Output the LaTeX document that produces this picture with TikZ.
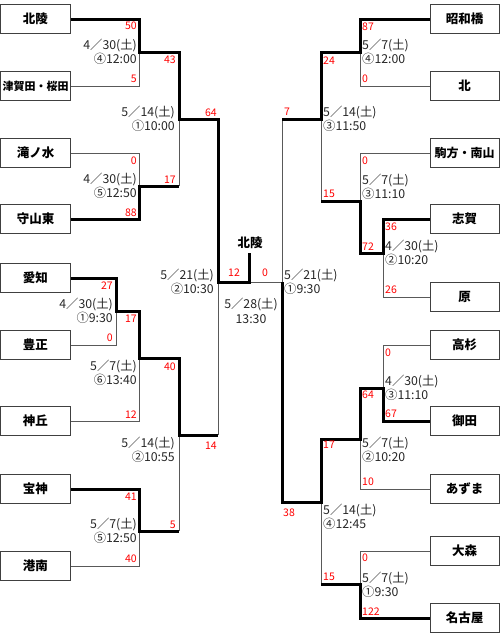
\documentclass[tikz,border=0pt]{standalone}
\usepackage{fontspec}
\setmainfont{Noto Sans CJK JP}
\usetikzlibrary{backgrounds}
\begin{document}
\begin{tikzpicture}[x=1pt,y=-1pt,
  team/.style={draw=black!75, line width=1pt, fill=white, minimum width=70pt, minimum height=29pt, inner sep=0pt, font=\fontsize{12.5}{14}\selectfont\bfseries},
  rteam/.style={team, minimum width=69pt},
  lose/.style={draw=black!65, line width=1pt},
  win/.style={draw=black, line width=3pt, line join=miter},
  date/.style={font=\fontsize{12.3}{14.5}\selectfont, text=black!85, inner sep=0pt},
  dl/.style={date, anchor=east, align=right},
  dr/.style={date, anchor=west, align=left},
  sc/.style={font=\fontsize{10.5}{12}\selectfont, text=red, inner sep=0pt},
  scl/.style={sc, anchor=east},
  scr/.style={sc, anchor=west}]
\useasboundingbox (0,0) rectangle (500,637);
% left teams
\node[team] (L1) at (35.5,19) {北陵};
\node[team] (L2) at (35.5,86) {\fontsize{11}{13}\selectfont 津賀田・桜田};
\node[team] (L3) at (35.5,153) {滝ノ水};
\node[team] (L4) at (35.5,219) {守山東};
\node[team] (L5) at (35.5,278) {愛知};
\node[team] (L6) at (35.5,345) {豊正};
\node[team] (L7) at (35.5,421) {神丘};
\node[team] (L8) at (35.5,489) {宝神};
\node[team] (L9) at (35.5,566) {港南};
% right teams
\node[rteam] (R1) at (464.5,19) {昭和橋};
\node[rteam] (R2) at (464.5,86) {北};
\node[rteam] (R3) at (464.5,153) {\fontsize{12}{14}\selectfont 駒方・南山};
\node[rteam] (R4) at (464.5,219) {志賀};
\node[rteam] (R5) at (464.5,297) {原};
\node[rteam] (R6) at (464.5,345) {高杉};
\node[rteam] (R7) at (464.5,421) {御田};
\node[rteam] (R8) at (464.5,489) {あずま};
\node[rteam] (R9) at (464.5,551) {大森};
\node[rteam] (R10) at (464.5,618) {名古屋};
\node[font=\fontsize{12.5}{14}\selectfont\bfseries, inner sep=0pt] (champ) at (250,243) {北陵};
% junctions
\coordinate (a1) at (139,52);  \coordinate (a2) at (179,52);
\coordinate (b1) at (139,186); \coordinate (b2) at (179,186);
\coordinate (c1) at (179,119); \coordinate (c2) at (218,119);
\coordinate (d1) at (116,311); \coordinate (d2) at (139,311);
\coordinate (e1) at (139,358); \coordinate (e2) at (179,358);
\coordinate (f1) at (139,531); \coordinate (f2) at (179,531);
\coordinate (g1) at (179,435); \coordinate (g2) at (218,435);
\coordinate (sl) at (218,282); \coordinate (fs) at (249,282);
\coordinate (ft) at (249,253); \coordinate (sr) at (282,282);
\coordinate (h1) at (360,52);  \coordinate (h2) at (321,52);
\coordinate (i1) at (383,253); \coordinate (i2) at (360,253);
\coordinate (j1) at (360,201); \coordinate (j2) at (321,201);
\coordinate (k1) at (321,119); \coordinate (k2) at (282,119);
\coordinate (l1) at (383,388); \coordinate (l2) at (360,388);
\coordinate (m1) at (360,439); \coordinate (m2) at (321,439);
\coordinate (n1) at (360,584); \coordinate (n2) at (321,584);
\coordinate (o1) at (321,502); \coordinate (o2) at (282,502);
\begin{scope}[on background layer]
% losers
\draw[lose] (L2.east) -| (a1);
\draw[lose] (L3.east) -| (b1);
\draw[lose] (b2) -- (c1);
\draw[lose] (L6.east) -| (d1);
\draw[lose] (L7.east) -| (e1);
\draw[lose] (L9.east) -| (f1);
\draw[lose] (f2) -- (g1);
\draw[lose] (g2) -- (sl);
\draw[lose] (sr) -- (fs);
\draw[lose] (R2.west) -| (h1);
\draw[lose] (R5.west) -| (i1);
\draw[lose] (R3.west) -| (j1);
\draw[lose] (j2) -- (k1);
\draw[lose] (R6.west) -| (l1);
\draw[lose] (R8.west) -| (m1);
\draw[lose] (R9.west) -| (n1);
\draw[lose] (n2) -- (o1);
\draw[lose] (k2) -- (sr);
% winners
\draw[win] (L1.east) -| (a1) -- (a2) -- (c1) -- (c2) -- (sl) -- (fs) -- (ft);
\draw[win] (L4.east) -| (b1) -- (b2);
\draw[win] (L5.east) -| (d1) -- (d2) -- (e1) -- (e2) -- (g1) -- (g2);
\draw[win] (L8.east) -| (f1) -- (f2);
\draw[win] (R1.west) -| (h1) -- (h2) -- (k1) -- (k2);
\draw[win] (R4.west) -| (i1) -- (i2) -- (j1) -- (j2);
\draw[win] (R7.west) -| (l1) -- (l2) -- (m1) -- (m2) -- (o1) -- (o2) -- (sr);
\draw[win] (R10.west) -| (n1) -- (n2);
\end{scope}
% dates left
\node[dl] (t1) at (137,52) {4／30(土)\\④12:00};
\node[dl] (t2) at (175,119) {5／14(土)\\①10:00};
\node[dl] (t3) at (137,186) {4／30(土)\\⑤12:50};
\node[dl] (t4) at (214,282) {5／21(土)\\②10:30};
\node[dl] (t5) at (113,311) {4／30(土)\\①9:30};
\node[dl] (t6) at (137,373) {5／7(土)\\⑥13:40};
\node[dl] (t7) at (175,450) {5／14(土)\\②10:55};
\node[dl] (t8) at (137,531) {5／7(土)\\⑤12:50};
\node[date, align=center] (t9) at (251,311) {5／28(土)\\13:30};
% dates right
\node[dr] (u1) at (362,52) {5／7(土)\\④12:00};
\node[dr] (u2) at (323,119) {5／14(土)\\③11:50};
\node[dr] (u3) at (362,187) {5／7(土)\\③11:10};
\node[dr] (u4) at (284,282) {5／21(土)\\①9:30};
\node[dr] (u5) at (385,253) {4／30(土)\\②10:20};
\node[dr] (u6) at (385,388) {4／30(土)\\③11:10};
\node[dr] (u7) at (362,450) {5／7(土)\\②10:20};
\node[dr] (u8) at (323,517) {5／14(土)\\④12:45};
\node[dr] (u9) at (362,585) {5／7(土)\\①9:30};
% scores left
\node[scl] (s1) at (137,26) {50};
\node[scl] (s2) at (137,79) {5};
\node[scl] (s3) at (176,60) {43};
\node[scl] (s4) at (217,113) {64};
\node[scl] (s5) at (137,161) {0};
\node[scl] (s6) at (176,180) {17};
\node[scl] (s7) at (137,213) {88};
\node[scl] (s8) at (113,286) {27};
\node[scl] (s9) at (113,338) {0};
\node[scl] (s10) at (137,319) {17};
\node[scl] (s11) at (176,367) {40};
\node[scl] (s12) at (137,415) {12};
\node[scl] (s13) at (217,446) {14};
\node[scl] (s14) at (137,497) {41};
\node[scl] (s15) at (176,525) {5};
\node[scl] (s16) at (137,559) {40};
\node[sc] (s17) at (234,273) {12};
\node[sc] (s18) at (265,273) {0};
% scores right
\node[scr] (r1) at (362,27) {87};
\node[scr] (r2) at (362,79) {0};
\node[scr] (r3) at (323,61) {24};
\node[scr] (r4) at (284,112) {7};
\node[scr] (r5) at (362,161) {0};
\node[scr] (r6) at (323,194) {15};
\node[scr] (r7) at (385,227) {36};
\node[scr] (r8) at (362,247) {72};
\node[scr] (r9) at (385,290) {26};
\node[scr] (r10) at (385,353) {0};
\node[scr] (r11) at (362,395) {64};
\node[scr] (r12) at (385,414) {67};
\node[scr] (r13) at (323,445) {17};
\node[scr] (r14) at (362,482) {10};
\node[scr] (r15) at (283,513) {38};
\node[scr] (r16) at (362,558) {0};
\node[scr] (r17) at (323,577) {15};
\node[scr] (r18) at (362,612) {122};
\end{tikzpicture}
\end{document}
